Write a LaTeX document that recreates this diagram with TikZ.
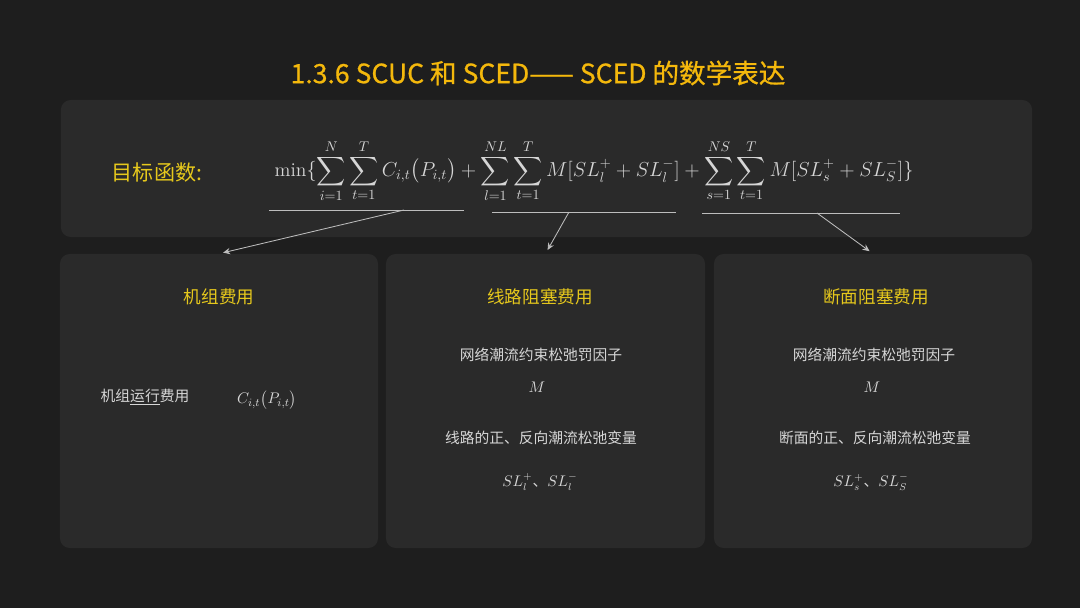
\documentclass[tikz,border=0pt]{standalone}
\usepackage{amsmath}
\usepackage{fontspec}
\newfontfamily\cjk{Noto Sans CJK SC}
\newfontfamily\cjkmid[FakeBold=0.8]{Noto Sans CJK SC}
\usetikzlibrary{arrows.meta}

\definecolor{bgdark}{HTML}{1E1E1E}
\definecolor{panelgray}{HTML}{2A2A2A}
\definecolor{titleorange}{HTML}{F4B80C}
\definecolor{headyellow}{HTML}{E6C81C}
\definecolor{textgray}{HTML}{D6D6D6}
\definecolor{linegray}{HTML}{BDBDBD}

\tikzset{
  panel/.style={fill=panelgray, rounded corners=7pt, inner sep=0pt},
  maintitle/.style={text=titleorange, font=\cjkmid\fontsize{18.9}{22}\selectfont},
  head/.style={text=headyellow, font=\cjk\fontsize{12.5}{15}\selectfont},
  body/.style={text=textgray, font=\cjk\fontsize{10.5}{13}\selectfont},
  mathtxt/.style={text=textgray, font=\fontsize{10.5}{13}\selectfont},
  uline/.style={draw=linegray, line width=0.5pt},
  pointer/.style={draw=linegray, line width=0.6pt, ->},
}

\begin{document}
\begin{tikzpicture}[x=0.025cm, y=-0.025cm, >={Stealth[length=5pt,width=4.5pt]}]
  \fill[bgdark] (0,0) rectangle (1080,608);
  \useasboundingbox (0,0) rectangle (1080,608);

  \node[maintitle] (title) at (538,73) {1.3.6 SCUC 和 SCED—— SCED 的数学表达};

  % objective function
  \node[panel, minimum width=24.275cm, minimum height=3.425cm] (top) at (546.5,168.5) {};
  \node[head, font=\cjk\fontsize{15}{18}\selectfont] (goal) at (157,172) {目标函数:};
  \node[text=textgray, font=\fontsize{13.9}{17}\selectfont] (obj) at (594,171)
    {$\displaystyle \min\{\sum_{i=1}^{N}\sum_{t=1}^{T} C_{i,t}\bigl(P_{i,t}\bigr)
      + \sum_{l=1}^{NL}\sum_{t=1}^{T} M[SL_l^{+} + SL_l^{-}]
      + \sum_{s=1}^{NS}\sum_{t=1}^{T} M[SL_s^{+} + SL_S^{-}]\}$};

  \coordinate (u1a) at (269,210); \coordinate (u1b) at (464,210); \coordinate (u1m) at (404,210);
  \coordinate (u2a) at (492,212); \coordinate (u2b) at (676,212); \coordinate (u2m) at (569,212);
  \coordinate (u3a) at (702,213); \coordinate (u3b) at (900,213); \coordinate (u3m) at (817,213);
  \draw[uline] (u1a) -- (u1b);
  \draw[uline] (u2a) -- (u2b);
  \draw[uline] (u3a) -- (u3b);

  % three cost panels
  \node[panel, minimum width=7.95cm, minimum height=7.35cm] (p1) at (219,401) {};
  \node[panel, minimum width=7.975cm, minimum height=7.35cm] (p2) at (545.5,401) {};
  \node[panel, minimum width=7.95cm, minimum height=7.35cm] (p3) at (873,401) {};

  \draw[pointer, shorten >=3pt] (u1m) -- (p1.north);
  \draw[pointer, shorten >=3pt] (u2m) -- (p2.north);
  \draw[pointer, shorten >=3pt] (u3m) -- (p3.north);

  \node[head] (h1) at (219,297) {机组费用};
  \node[body] (run) at (145,397) {机组\underline{运行}费用};
  \node[mathtxt, font=\fontsize{11}{13}\selectfont] (cost) at (267,400) {$C_{i,t}\bigl(P_{i,t}\bigr)$};

  \node[head] (h2) at (540,297) {线路阻塞费用};
  \node[body] (pen2) at (541,355) {网络潮流约束松弛罚因子};
  \node[mathtxt] (m2) at (537,387) {$M$};
  \node[body] (var2) at (541,438) {线路的正、反向潮流松弛变量};
  \node[body] (sl2) at (540,482) {$SL_l^{+}$、$SL_l^{-}$};

  \node[head] (h3) at (876,297) {断面阻塞费用};
  \node[body] (pen3) at (874,355) {网络潮流约束松弛罚因子};
  \node[mathtxt] (m3) at (872,387) {$M$};
  \node[body] (var3) at (875,438) {断面的正、反向潮流松弛变量};
  \node[body] (sl3) at (871,482) {$SL_s^{+}$、$SL_S^{-}$};
\end{tikzpicture}
\end{document}
